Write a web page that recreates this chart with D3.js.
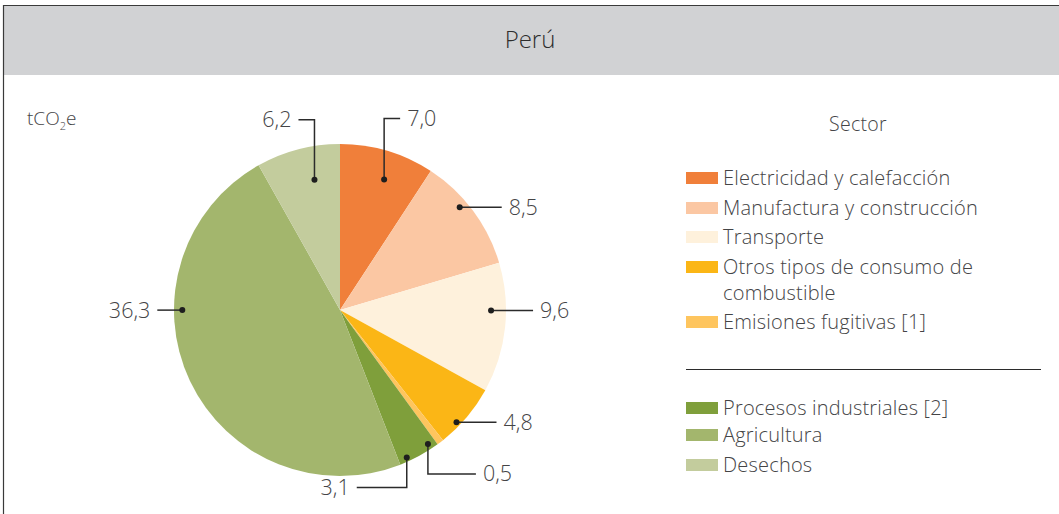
<!DOCTYPE html>
<html><head><meta charset="utf-8">
<script src="https://cdn.jsdelivr.net/npm/d3@7"></script>
<style>
html,body{margin:0;padding:0;background:#fff;}
svg{display:block;font-family:"Open Sans","Lato",sans-serif;}
</style></head>
<body>
<svg id="chart" width="1059" height="514"></svg>
<script>
// ---- data ----
const title = "Perú";
const unitLabel = ["tCO", "2", "e"];
const legendTitle = "Sector";
const sectors = ["Electricidad y calefacción","Manufactura y construcción","Transporte","Otros tipos de consumo de combustible","Emisiones fugitivas [1]","Procesos industriales [2]","Agricultura","Desechos"];
const values = [7.0, 8.5, 9.6, 4.8, 0.5, 3.1, 36.3, 6.2];
const valueLabels = ["7,0","8,5","9,6","4,8","0,5","3,1","36,3","6,2"];
const colors = ["#f07f3a","#fbc7a3","#fef1dc","#fbb616","#fec55e","#7f9f3b","#a3b66d","#c3cc9d"];
const legendLines = [["Electricidad y calefacción"],["Manufactura y construcción"],["Transporte"],["Otros tipos de consumo de","combustible"],["Emisiones fugitivas [1]"],["Procesos industriales [2]"],["Agricultura"],["Desechos"]];

// ---- layout (style, not data) ----
const W = 1059, H = 514;
const cx = 340, cy = 310, R = 166;
// per-slice label anchor: angle offset (deg) from slice middle, radius fraction, leader path
const labelLayout = [
  {da: 2.1, rf: 0.83, path: [["v",-61],["h",16]]},
  {da: -3.9, rf: 0.95, path: [["h",42]]},
  {da: -6, rf: 0.91, path: [["h",42]]},
  {da: 3.7, rf: 0.975, path: [["h",40]]},
  {da: 3.9, rf: 0.965, path: [["v",30],["h",48]]},
  {da: 4.3, rf: 0.975, path: [["v",30],["h",-50]]},
  {da: 25.3, rf: 0.95, path: [["h",-25]]},
  {da: 3.6, rf: 0.8, path: [["v",-60],["h",-16]]}
];

const svg = d3.select("#chart");
const textColor = "#444446";
const fw = 300;

// frame + header
svg.append("rect").attr("x",3).attr("y",5).attr("width",W+10).attr("height",70).attr("fill","#d1d2d4");
svg.append("path").attr("d",`M3.5,${H+2} V5.5 H${W+2}`).attr("fill","none").attr("stroke","#3a3a3a").attr("stroke-width",1.2);
svg.append("text").attr("x",530).attr("y",40).attr("dy","0.35em").attr("text-anchor","middle")
  .attr("font-size",24).attr("font-weight",fw).attr("fill","#2d2d2d").text(title);

// unit label
const ut = svg.append("text").attr("x",27).attr("y",118).attr("dy","0.35em").attr("font-size",19).attr("font-weight",fw).attr("fill",textColor);
ut.append("tspan").text(unitLabel[0]);
ut.append("tspan").attr("font-size",11).attr("dy",5).text(unitLabel[1]);
ut.append("tspan").attr("dy",-5).text(unitLabel[2]);

// pie
const pie = d3.pie().sort(null).value(d => d)(values);
const arc = d3.arc().innerRadius(0).outerRadius(R);
const g = svg.append("g").attr("transform",`translate(${cx},${cy})`);
g.selectAll("path.slice").data(pie).join("path").attr("class","slice")
  .attr("d",arc).attr("fill",(d,i)=>colors[i]);

// labels
pie.forEach((d,i) => {
  const L = labelLayout[i];
  const a = (d.startAngle + d.endAngle)/2 + L.da*Math.PI/180;
  const r = R*L.rf;
  let x = cx + r*Math.sin(a), y = cy - r*Math.cos(a);
  let dstr = `M${x},${y}`;
  const x0 = x, y0 = y;
  let lastH = 0;
  L.path.forEach(([t,v]) => {
    if (t === "v") { y += v; dstr += ` V${y}`; }
    else { x += v; lastH = v; dstr += ` H${x}`; }
  });
  svg.append("path").attr("d",dstr).attr("fill","none").attr("stroke","#2b2b2b").attr("stroke-width",1.5);
  svg.append("circle").attr("cx",x0).attr("cy",y0).attr("r",3).attr("fill","#1e1e1e");
  svg.append("text").attr("x", x + (lastH>0 ? 7 : -7)).attr("y", y).attr("dy","0.35em")
    .attr("text-anchor", lastH>0 ? "start" : "end")
    .attr("font-size",21.5).attr("font-weight",fw).attr("fill",textColor).text(valueLabels[i]);
});

// legend
const lx = 686, sw = 32, sh = 12;
svg.append("text").attr("x",858).attr("y",124).attr("dy","0.35em").attr("text-anchor","middle")
  .attr("font-size",19.5).attr("letter-spacing",0.3).attr("font-weight",fw).attr("fill",textColor).text(legendTitle);
const rowY = [178,208,237,267,322,408,435,465];
legendLines.forEach((lines,i) => {
  svg.append("rect").attr("x",lx).attr("y",rowY[i]-sh/2).attr("width",sw).attr("height",sh).attr("fill",colors[i]);
  lines.forEach((ln,k) => {
    svg.append("text").attr("x",lx+sw+5).attr("y",rowY[i]+k*26).attr("dy","0.35em")
      .attr("font-size",20).attr("letter-spacing",0.2).attr("font-weight",fw).attr("fill",textColor).text(ln);
  });
});
svg.append("line").attr("x1",lx).attr("x2",1041).attr("y1",369.5).attr("y2",369.5)
  .attr("stroke","#2b2b2b").attr("stroke-width",1.2);
</script>
</body></html>
